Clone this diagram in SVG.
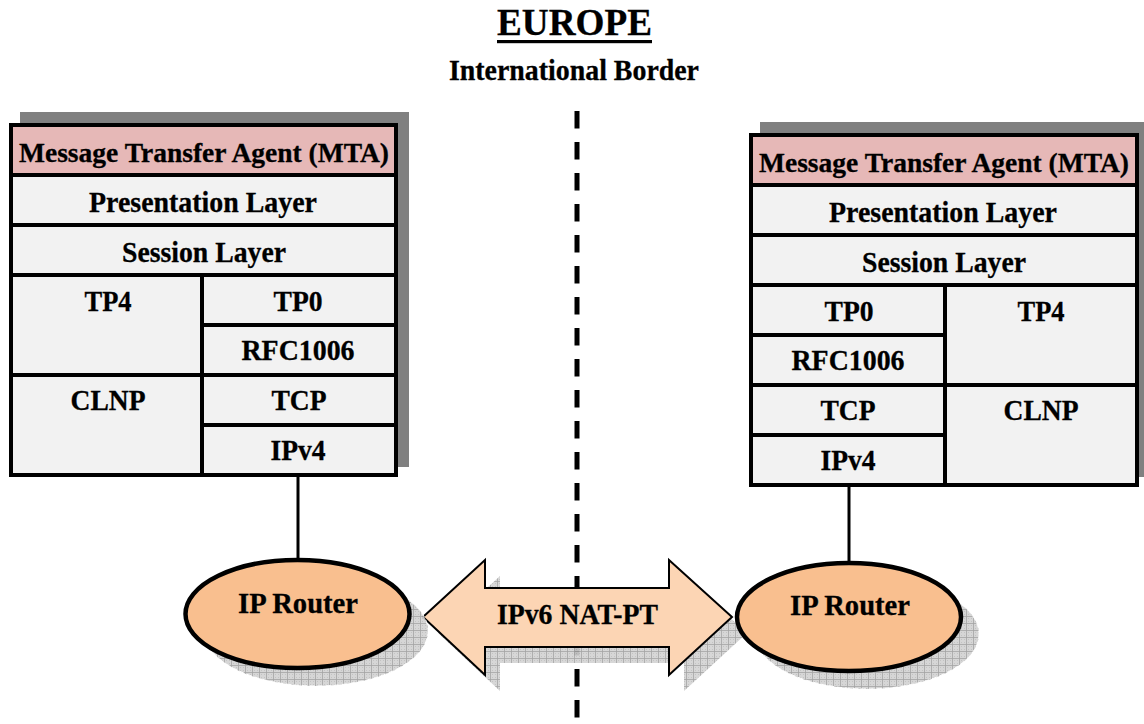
<svg xmlns="http://www.w3.org/2000/svg" width="1144" height="724" viewBox="0 0 1144 724">
<defs>
<pattern id="grid" width="7" height="7" patternUnits="userSpaceOnUse">
<rect width="7" height="7" fill="#d2d2d2"/>
<path d="M0 0.5H7M0.5 0V7" stroke="#9a9a9a" stroke-width="0.8"/>
<path d="M2 2h1v1h-1zM5 5h1v1h-1zM5 2h1v1h-1zM2 5h1v1h-1z" fill="#bdbdbd"/>
</pattern>
</defs>
<style>
.t{font-family:"Liberation Serif","Times New Roman",serif;font-weight:bold;fill:#000;text-anchor:middle;stroke:#000;stroke-width:0.3}
.s{font-size:29.5px}
.m{font-size:28px}
.cell{fill:#f2f2f2;stroke:#000;stroke-width:4}
.mta{fill:#e6b8b7;stroke:#000;stroke-width:4}
.bshadow{fill:#808080}
.router{fill:#f9bf8f;stroke:#000;stroke-width:4.5}
.eshadow{fill:url(#grid);stroke:#fff;stroke-width:1;stroke-dasharray:5 3;opacity:0.9}
.link{stroke:#000;stroke-width:3;fill:none}
</style>
<rect width="1144" height="724" fill="#fff"/>

<g id="title">
<text class="t" x="574.5" y="35" style="font-size:38px" textLength="155" lengthAdjust="spacingAndGlyphs">EUROPE</text>
<rect x="497" y="40" width="155" height="3.2" fill="#000"/>
</g>
<g id="border-label">
<text class="t" x="574" y="80" style="font-size:28.5px" textLength="250" lengthAdjust="spacingAndGlyphs">International Border</text>
</g>

<g id="border-line">
<line x1="577" y1="111" x2="577" y2="724" stroke="#000" stroke-width="5" stroke-dasharray="17.5 13.5"/>
</g>

<g id="left-stack">
<rect class="bshadow" x="20" y="112" width="389" height="355"/>
<rect class="mta" x="11" y="125" width="385" height="50"/>
<rect class="cell" x="11" y="175" width="385" height="50"/>
<rect class="cell" x="11" y="225" width="385" height="50"/>
<rect class="cell" x="11" y="275" width="191" height="100"/>
<rect class="cell" x="202" y="275" width="194" height="50"/>
<rect class="cell" x="202" y="325" width="194" height="50"/>
<rect class="cell" x="11" y="375" width="191" height="100"/>
<rect class="cell" x="202" y="375" width="194" height="50"/>
<rect class="cell" x="202" y="425" width="194" height="50"/>
<text class="t m" x="204" y="162" textLength="370" lengthAdjust="spacingAndGlyphs">Message Transfer Agent (MTA)</text>
<text class="t s" x="203" y="212" textLength="228" lengthAdjust="spacingAndGlyphs">Presentation Layer</text>
<text class="t s" x="204" y="262" textLength="164" lengthAdjust="spacingAndGlyphs">Session Layer</text>
<text class="t s" x="108" y="311" textLength="47" lengthAdjust="spacingAndGlyphs">TP4</text>
<text class="t s" x="298" y="311" textLength="49" lengthAdjust="spacingAndGlyphs">TP0</text>
<text class="t s" x="298" y="360" textLength="113" lengthAdjust="spacingAndGlyphs">RFC1006</text>
<text class="t s" x="108" y="410" textLength="75" lengthAdjust="spacingAndGlyphs">CLNP</text>
<text class="t s" x="299" y="410" textLength="55" lengthAdjust="spacingAndGlyphs">TCP</text>
<text class="t s" x="298" y="460" textLength="55" lengthAdjust="spacingAndGlyphs">IPv4</text>
</g>

<g id="right-stack">
<rect class="bshadow" x="760" y="122" width="390" height="355"/>
<rect class="mta" x="751" y="135" width="386" height="50"/>
<rect class="cell" x="751" y="185" width="386" height="50"/>
<rect class="cell" x="751" y="235" width="386" height="50"/>
<rect class="cell" x="751" y="285" width="194" height="50"/>
<rect class="cell" x="751" y="335" width="194" height="50"/>
<rect class="cell" x="945" y="285" width="192" height="100"/>
<rect class="cell" x="751" y="385" width="194" height="50"/>
<rect class="cell" x="751" y="435" width="194" height="50"/>
<rect class="cell" x="945" y="385" width="192" height="100"/>
<text class="t m" x="944" y="172" textLength="370" lengthAdjust="spacingAndGlyphs">Message Transfer Agent (MTA)</text>
<text class="t s" x="943" y="222" textLength="228" lengthAdjust="spacingAndGlyphs">Presentation Layer</text>
<text class="t s" x="944" y="272" textLength="164" lengthAdjust="spacingAndGlyphs">Session Layer</text>
<text class="t s" x="849" y="321" textLength="49" lengthAdjust="spacingAndGlyphs">TP0</text>
<text class="t s" x="848" y="370" textLength="113" lengthAdjust="spacingAndGlyphs">RFC1006</text>
<text class="t s" x="848" y="420" textLength="55" lengthAdjust="spacingAndGlyphs">TCP</text>
<text class="t s" x="848" y="470" textLength="55" lengthAdjust="spacingAndGlyphs">IPv4</text>
<text class="t s" x="1041" y="321" textLength="47" lengthAdjust="spacingAndGlyphs">TP4</text>
<text class="t s" x="1041" y="420" textLength="75" lengthAdjust="spacingAndGlyphs">CLNP</text>
</g>

<g id="connectors">
<line class="link" x1="298" y1="476" x2="298" y2="560"/>
<line class="link" x1="849" y1="486" x2="849" y2="563"/>
</g>

<g id="nat-pt">
<polygon class="eshadow" points="438,633 500,576 500,604 684,604 684,576 747,633 684,691 684,663 500,663 500,691" style="stroke:none"/>
<polygon points="423,617 485,560 485,588 669,588 669,560 732,617 669,675 669,647 485,647 485,675" fill="#fcd5b4" stroke="#000" stroke-width="2"/>
<text class="t" x="577.5" y="624" style="font-size:28.5px" textLength="161" lengthAdjust="spacingAndGlyphs">IPv6 NAT-PT</text>
</g>

<g id="left-router">
<ellipse class="eshadow" cx="316" cy="631" rx="112" ry="55"/>
<ellipse class="router" cx="297.5" cy="614" rx="112" ry="54"/>
<text class="t" x="298" y="613" style="font-size:29px" textLength="120" lengthAdjust="spacingAndGlyphs">IP Router</text>
</g>

<g id="right-router">
<ellipse class="eshadow" cx="867" cy="634" rx="112" ry="55"/>
<ellipse class="router" cx="849" cy="617" rx="112" ry="54"/>
<text class="t" x="850" y="615" style="font-size:29px" textLength="120" lengthAdjust="spacingAndGlyphs">IP Router</text>
</g>
</svg>
